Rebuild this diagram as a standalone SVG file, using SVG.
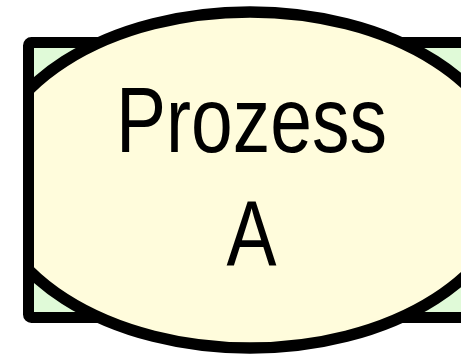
<svg xmlns="http://www.w3.org/2000/svg" width="461" height="355" viewBox="0 0 461 355">
  <style>
    .frame { fill: #E0FAD8; stroke: #000000; stroke-width: 11; }
    .oval { fill: #FFFCDC; stroke: #000000; stroke-width: 11.5; }
    .label { font-family: "Liberation Sans", Arial, sans-serif; font-size: 92px; fill: #000000; text-anchor: middle; }
  </style>
  <defs>
    <clipPath id="clipOval">
      <rect x="34" y="-20" width="500" height="400"/>
    </clipPath>
  </defs>
  <rect width="461" height="355" fill="#FFFFFF"/>
  <g id="node-prozess-a">
    <rect class="frame" x="28.5" y="42.5" width="480" height="275" rx="3"/>
    <ellipse class="oval" cx="250" cy="180" rx="262" ry="168" clip-path="url(#clipOval)"/>
    <g transform="translate(251.5,0) scale(0.815,1)">
      <text class="label" x="0" y="152">Prozess</text>
      <text class="label" x="0" y="266">A</text>
    </g>
  </g>
  <g id="connectors"></g>
</svg>
